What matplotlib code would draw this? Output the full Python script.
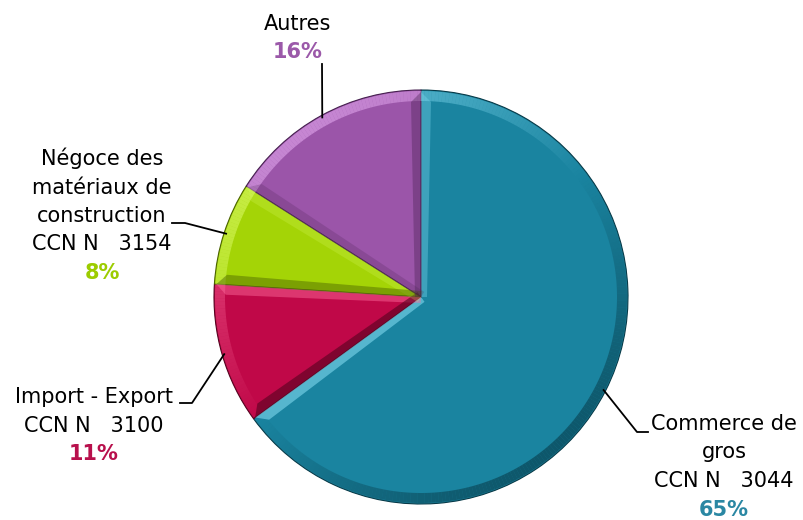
import numpy as np
import matplotlib.pyplot as plt
from matplotlib.patches import Wedge, Polygon

W, H = 804, 520

labels = ["Commerce de\ngros\nCCN N   3044", "Import - Export\nCCN N   3100",
          "Négoce des\nmatériaux de\nconstruction\nCCN N   3154", "Autres"]
shares = [65, 11, 8, 16]
pct_labels = ["65%", "11%", "8%", "16%"]
colors = ["#1a84a0", "#c00848", "#a4d406", "#9b55a9"]
light = ["#7fd8ee", "#ff6fa0", "#e0ff70", "#e3a8ef"]
dark = ["#073a48", "#55021f", "#4a6200", "#46204f"]
txt_colors = ["#2a87a3", "#b8104c", "#9ccc00", "#9b59a9"]

# label layout (pixel coords, y from top): x centre, first baseline, elbow points
label_pos = [(724, 430), (94, 403), (102, 165), (298, 30)]
leader_end = [[(637, 432), (648, 432)], [(192, 403), (180, 403)],
              [(185, 223), (172, 223)], [(322, 64)]]

cx, cy, R = 421, 297, 207
lsp = 28.5
bevel = 10
light_dir = np.array([-0.6, 0.8])

fig = plt.figure(figsize=(W / 100, H / 100), dpi=100)
ax = fig.add_axes([0, 0, 1, 1])

center = (cx, H - cy)
wedges, _ = ax.pie(shares, colors=colors, startangle=90, counterclock=False,
                   center=center, radius=R, frame=True,
                   wedgeprops=dict(edgecolor="none"))

# bevel shading along rim and radial edges
for w, lc, dc in zip(wedges, light, dark):
    t1, t2 = w.theta1, w.theta2
    angs = np.linspace(t1, t2, int(t2 - t1) + 2)
    for a0, a1 in zip(angs[:-1], angs[1:]):
        am = np.deg2rad((a0 + a1) / 2)
        s = np.dot([np.cos(am), np.sin(am)], light_dir)
        c = lc if s > 0 else dc
        ax.add_patch(Wedge(center, R - 1, a0, a1, width=bevel, color=c,
                           alpha=min(abs(s), 1) * 0.6, lw=0))
    for th, sign in ((t1, 1), (t2, -1)):
        r = np.deg2rad(th)
        u = np.array([np.cos(r), np.sin(r)])
        n_in = sign * np.array([-np.sin(r), np.cos(r)])
        s = np.dot(-n_in, light_dir)
        c = lc if s > 0 else dc
        p0 = np.array(center)
        pts = [p0, p0 + u * (R - 2), p0 + u * (R - 2 - bevel) + n_in * bevel,
               p0 + n_in * bevel * 0.6]
        ax.add_patch(Polygon(pts, closed=True, color=c,
                             alpha=min(abs(s), 1) * 0.6, lw=0))
    w.set_edgecolor(dc)
    w.set_linewidth(0.8)

ax.set_xlim(0, W)
ax.set_ylim(0, H)
ax.set_aspect("equal")
ax.axis("off")

for i, w in enumerate(wedges):
    ang = np.deg2rad((w.theta1 + w.theta2) / 2)
    sx = cx + R * 0.99 * np.cos(ang)
    sy = cy - R * 0.99 * np.sin(ang)
    pts = [(sx, sy)] + leader_end[i]
    ax.plot([p[0] for p in pts], [H - p[1] for p in pts], color="black", lw=1.3)

    x, y0 = label_pos[i]
    lines = labels[i].split("\n")
    for k, t in enumerate(lines):
        ax.text(x, H - (y0 + k * lsp), t, ha="center", va="baseline",
                fontsize=15, family="DejaVu Sans", color="black")
    ax.text(x, H - (y0 + len(lines) * lsp), pct_labels[i], ha="center",
            va="baseline", fontsize=15, fontweight="bold",
            family="DejaVu Sans", color=txt_colors[i])

fig.savefig("out.png", dpi=100)
